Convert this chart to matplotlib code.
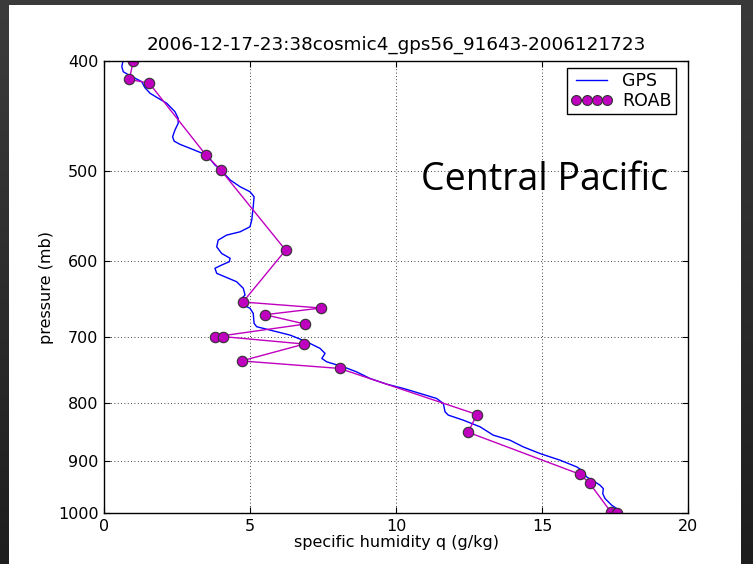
import numpy as np
import matplotlib
matplotlib.use("Agg")
import matplotlib.pyplot as plt
from matplotlib.ticker import FixedLocator, FixedFormatter, NullLocator

# GPS profile: specific humidity (g/kg) vs pressure (mb)
gps_q = [0.65, 0.61, 0.66, 0.89, 1.12, 1.29, 1.40, 1.58, 1.86, 2.15, 2.43, 2.54, 2.54,
         2.43, 2.35, 2.40, 2.60, 2.95, 3.29, 3.52, 3.80, 4.01, 4.32, 4.66, 5.00, 5.14,
         5.11, 5.06, 5.00, 4.66, 4.20, 3.91, 3.86, 4.03, 4.32, 4.29, 4.03, 3.80, 3.86,
         4.20, 4.54, 4.77, 4.83, 4.72, 4.77, 5.00, 5.11, 5.14, 5.23, 5.68, 6.37, 6.94,
         7.40, 7.57, 7.46, 7.63, 8.20, 8.65, 9.11, 9.68, 10.25, 10.82, 11.39, 11.62,
         11.68, 11.79, 12.30, 12.88, 13.33, 13.90, 14.36, 14.93, 15.62, 16.19, 16.36,
         16.53, 16.82, 16.99, 17.10, 17.08, 17.16, 17.39, 17.56, 17.67]
gps_p = [400.0, 404.6, 408.8, 412.1, 414.9, 417.1, 422.2, 427.1, 431.4, 435.8, 443.3,
         449.3, 453.9, 460.1, 466.4, 470.5, 473.6, 477.5, 481.4, 484.0, 493.9, 499.0,
         509.1, 516.1, 521.4, 526.7, 537.5, 552.2, 559.8, 565.5, 569.3, 575.1, 583.0,
         590.9, 596.7, 600.9, 604.9, 608.9, 615.2, 620.4, 625.7, 634.1, 642.8, 647.1,
         655.9, 660.3, 667.1, 680.8, 685.5, 690.1, 697.2, 706.7, 716.3, 723.6, 731.0,
         736.1, 743.6, 751.2, 761.3, 770.1, 776.8, 784.7, 792.8, 800.8, 814.5, 820.0,
         828.4, 839.7, 854.0, 862.7, 874.6, 886.4, 898.5, 910.8, 916.9, 929.5, 939.0,
         945.3, 951.7, 961.4, 971.2, 984.5, 991.1, 1000.0]

# Radiosonde (ROAB) profile
roab_q = [1.00, 0.87, 1.55, 3.49, 4.00, 6.22, 4.76, 7.44, 5.51, 6.89, 3.81, 4.06,
          6.86, 4.71, 8.07, 12.77, 12.47, 16.31, 16.63, 17.36, 17.56]
roab_p = [400, 415.2, 418.4, 484, 499, 586.9, 652, 660, 669, 681.8, 699.6, 699.3,
          710, 734.7, 746, 819, 849, 924.7, 941.5, 998, 1000]

title = "2006-12-17-23:38cosmic4_gps56_91643-2006121723"
ytick_vals = [400, 500, 600, 700, 800, 900, 1000]
xtick_vals = [0, 5, 10, 15, 20]

W, H = 753, 564
fig = plt.figure(figsize=(W / 100, H / 100), dpi=100)
fig.patch.set_facecolor("white")

# dark slide borders
top = fig.add_axes([0, 1 - 5 / H, 1, 5 / H])
top.set_axis_off()
top.add_patch(plt.Rectangle((0, 0), 1, 1, color="#3a3a3a", transform=top.transAxes))
grad = np.linspace(0, 1, 256).reshape(-1, 1)
left = fig.add_axes([0, 0, 9 / W, 1])
left.imshow(grad, aspect="auto", cmap=matplotlib.colors.LinearSegmentedColormap.from_list(
    "g", ["#1e1e1e", "#3c3c3c"]), origin="lower", extent=[0, 1, 0, 1])
left.set_axis_off()
right = fig.add_axes([1 - 12 / W, 0, 12 / W, 1])
right.imshow(grad, aspect="auto", cmap=matplotlib.colors.LinearSegmentedColormap.from_list(
    "g2", ["#1e1e1e", "#3a3a3a"]), origin="lower", extent=[0, 1, 0, 1])
right.set_axis_off()

ax = fig.add_axes([104 / W, 1 - 513 / H, (688 - 104) / W, (513 - 61) / H])
l1, = ax.plot(gps_q, gps_p, color="#0000ff", lw=1.0, label="GPS")
l2, = ax.plot(roab_q, roab_p, color="#bf00bf", lw=1.0, marker="o", markersize=7.5,
              markerfacecolor="#bf00bf", markeredgecolor="#333333", markeredgewidth=0.8,
              label="ROAB")
for ln in (l1, l2):
    ln.set_clip_path(ax.patch)

ax.set_yscale("log")
ax.set_ylim(1000, 400)
ax.set_xlim(0, 20)
ax.yaxis.set_major_locator(FixedLocator(ytick_vals))
ax.yaxis.set_major_formatter(FixedFormatter([str(v) for v in ytick_vals]))
ax.yaxis.set_minor_locator(NullLocator())
ax.set_xticks(xtick_vals)
ax.set_xticklabels([str(v) for v in xtick_vals])
ax.tick_params(direction="in", top=True, right=True, labelsize=11.5, length=4,
               width=0.8, pad=4)
ax.grid(True, color="black", linestyle=(0, (1, 3)), linewidth=0.6)
for s in ax.spines.values():
    s.set_linewidth(1.0)

ax.set_title(title, fontsize=13.2, pad=8)
ax.set_xlabel("specific humidity q (g/kg)", fontsize=11.5, labelpad=1)
ax.set_ylabel("pressure (mb)", fontsize=11.5, labelpad=3)

leg = ax.legend(loc="upper right", numpoints=4, fontsize=12.5, fancybox=False,
                edgecolor="black", framealpha=1, handlelength=2.4,
                borderpad=0.25, labelspacing=0.1, handletextpad=0.55,
                borderaxespad=0, markerscale=0.95,
                bbox_to_anchor=(676 / W, 1 - 68 / H), bbox_transform=fig.transFigure)
leg.get_frame().set_linewidth(1.0)

fig.text(421 / W, 1 - 180 / H, "Central Pacific", fontsize=27,
         family="Open Sans", va="center", ha="left", color="black")

fig.savefig("out.png", dpi=100)
